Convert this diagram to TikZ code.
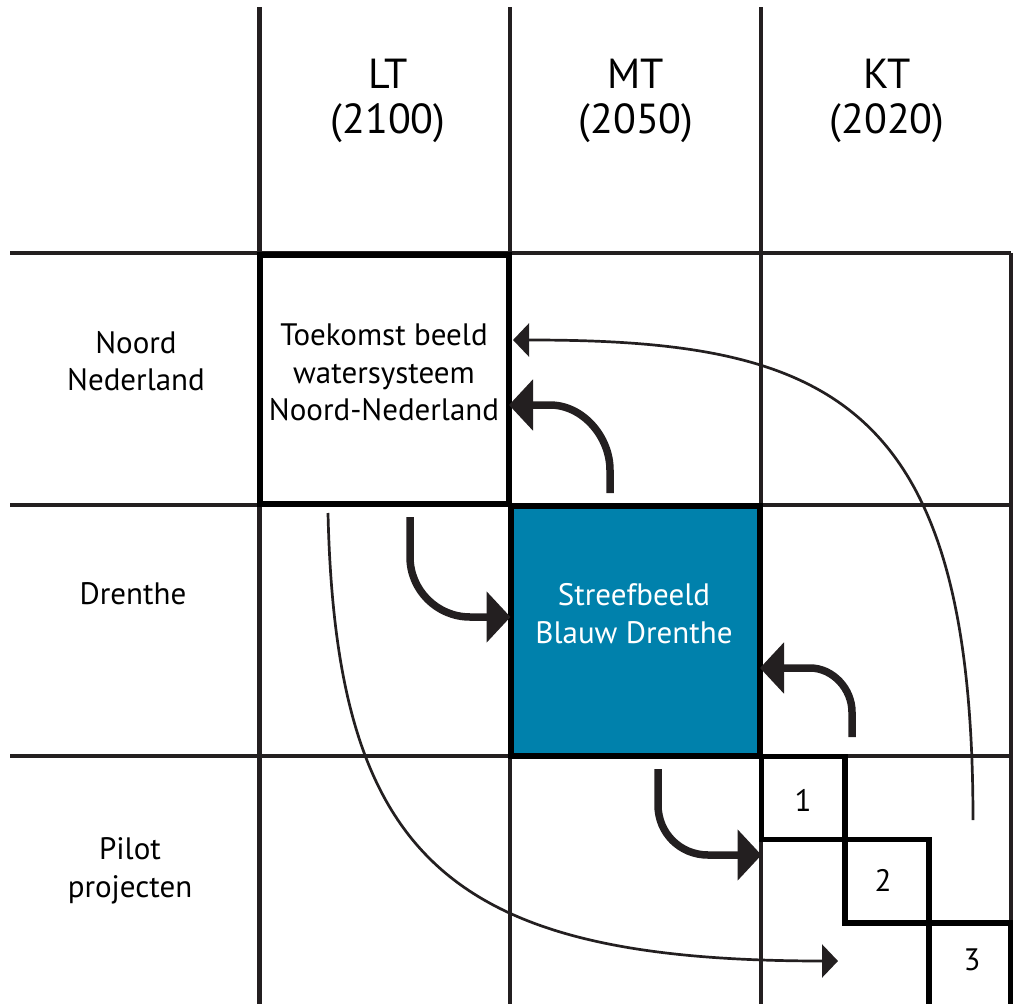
\documentclass[tikz,border=0pt]{standalone}
\usepackage{fontspec}
\setmainfont{PT Sans}
\usetikzlibrary{arrows.meta,calc}
\definecolor{ink}{HTML}{231F20}
\definecolor{blauw}{HTML}{0081AC}
\begin{document}
\begin{tikzpicture}[x=1pt,y=-1pt,
  gridline/.style={draw=ink, line width=4.2pt},
  bigbox/.style={draw=black, line width=6pt, outer sep=0pt, inner sep=0pt, minimum width=249.5pt, minimum height=249pt},
  smallbox/.style={draw=black, line width=5.5pt, outer sep=0pt, inner sep=0pt},
  txt/.style={inner sep=0pt, align=center, font=\fontsize{31}{37.5}\selectfont},
  headtxt/.style={inner sep=0pt, align=center, font=\fontsize{42}{45}\selectfont},
  thickarrow/.style={draw=ink, line width=7.5pt, -{Triangle[length=24pt,width=50pt]}},
  thinarrow/.style={draw=ink, line width=2.7pt, -{Triangle[length=16pt,width=33pt]}}]
\useasboundingbox (0,0) rectangle (1013,1004);
% grid
\draw[gridline] (10,253) -- (1011,253);
\draw[gridline] (10,505) -- (1011,505);
\draw[gridline] (10,756) -- (1011,756);
\draw[gridline] (259.5,7) -- (259.5,1010);
\draw[gridline] (510,7) -- (510,1010);
\draw[gridline] (761,7) -- (761,1010);
\draw[gridline] (1011,253) -- (1011,1010);
% boxes
\node[bigbox] (toek) at (384.25,379) {};
\node[bigbox, fill=blauw, minimum height=250pt] (blue) at (635.25,630.5) {};
\node[smallbox, minimum width=83.5pt, minimum height=83pt] (sq1) at (803.25,798) {};
\node[smallbox, minimum width=84pt, minimum height=83.5pt] (sq2) at (887,881.25) {};
\node[smallbox, minimum width=82pt, minimum height=92pt] (sq3) at (970,969) {};
% headers
\node[headtxt] (lt) at (388,101) {LT\\(2100)};
\node[headtxt] (mt) at (636,101) {MT\\(2050)};
\node[headtxt] (kt) at (887,101) {KT\\(2020)};
% row labels
\node[txt] (nn) at (136,361) {Noord\\Nederland};
\node[txt] (dr) at (133,594) {Drenthe};
\node[txt] (pp) at (130,871) {Pilot\\projecten};
% box texts
\node[txt] (toektxt) at (384,372.5) {Toekomst beeld\\watersysteem\\Noord-Nederland};
\node[txt, text=white] (bluetxt) at (634,613.5) {Streefbeeld\\Blauw Drenthe};
\node[txt] (n1) at (803,800) {1};
\node[txt] (n2) at (883,880) {2};
\node[txt] (n3) at (972,960) {3};
% arrows
\coordinate (s1) at (610,493);
\coordinate (s2) at (973,820);
\coordinate (s3) at (410,517);
\coordinate (s4) at (852,737);
\coordinate (s5) at (658,769);
\coordinate (s6) at (328,513);
\coordinate (e6) at (838,961);
\draw[thickarrow] (s1) -- (610,470) .. controls (610,437) and (583,405) .. (550,405) -- (toek.east |- 0,405);
\draw[thickarrow] (s3) -- (410,557) .. controls (410,590) and (437,617) .. (470,617) -- (blue.west |- 0,617);
\draw[thickarrow] (s4) -- (852,712) .. controls (852,689) and (833,668) .. (810,668) -- (blue.east |- 0,668);
\draw[thickarrow] (s5) -- (658,805) .. controls (658,833) and (680,855) .. (708,855) -- (sq1.west |- 0,855);
\draw[thinarrow] (s2) .. controls (973,400) and (830,340) .. (530,340) -- ($(toek.east |- 0,340)+(4,0)$);
\draw[thinarrow] (s6) .. controls (336,860) and (450,961) .. (823,961) -- (e6);
\end{tikzpicture}
\end{document}
